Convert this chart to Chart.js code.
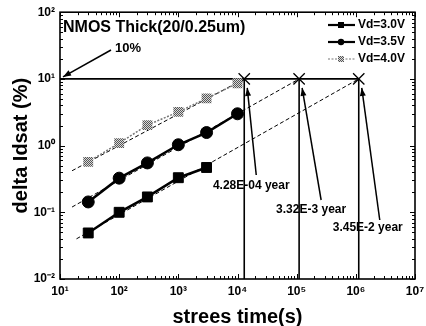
<!DOCTYPE html>
<html><head><meta charset="utf-8">
<script src="https://cdn.jsdelivr.net/npm/chart.js@4.4.0/dist/chart.umd.min.js"></script>
<style>html,body{margin:0;padding:0;background:#fff;}#wrap{width:426px;height:326px;position:relative;}</style>
</head><body><div id="wrap"><canvas id="c"></canvas></div>
<script>
// ---- data ----
const stressTime = [30, 100, 300, 1000, 3000, 10000];
const vd30 = [0.049, 0.10, 0.17, 0.33, 0.47, null];
const vd35 = [0.143, 0.325, 0.55, 1.03, 1.57, 3.0];
const vd40 = [0.57, 1.09, 2.03, 3.2, 5.1, 8.6];
const seriesNames = ['Vd=3.0V', 'Vd=3.5V', 'Vd=4.0V'];
const criterion = 10;                       // 10 % degradation
const lifetimeSec = [1.3e4, 1.1e5, 1.12e6];  // 4.0V, 3.5V, 3.0V
const lifetimeLabels = ['4.28E-04 year', '3.32E-3 year', '3.45E-2 year'];
const fitStartTime = [19, 16, 16];           // 3.0V, 3.5V, 4.0V
const fitStartValue = [0.04, 0.12, 0.42];
const xTicks = [1e1, 1e2, 1e3, 1e4, 1e5, 1e6, 1e7];
const xTickLabels = ['10¹', '10²', '10³', '10⁴', '10⁵', '10⁶', '10⁷'];
const yTicks = [0.01, 0.1, 1, 10, 100];
const yTickLabels = ['10⁻²', '10⁻¹', '10⁰', '10¹', '10²'];
const chartTitle = 'NMOS Thick(20/0.25um)';
const critLabel = '10%';
const xTitle = 'strees time(s)';
const yTitle = 'delta Idsat (%)';

const FONT = "'Liberation Sans', Arial, sans-serif";
const canvas = document.getElementById('c');
const ctx0 = canvas.getContext('2d');

function hatch() {
  const c = document.createElement('canvas'); c.width = 2; c.height = 2;
  const g = c.getContext('2d');
  g.fillStyle = '#d8d8d8'; g.fillRect(0, 0, 2, 2);
  g.fillStyle = '#555'; g.fillRect(0, 0, 1, 1); g.fillRect(1, 1, 1, 1);
  return ctx0.createPattern(c, 'repeat');
}
const grayPat = hatch();

const pts = (ys) => stressTime.map((t, i) => ys[i] == null ? null : ({x: t, y: ys[i]})).filter(p => p);

const datasets = [
  {label: seriesNames[0], data: pts(vd30), showLine: true, borderColor: '#000', borderWidth: 2.5,
   pointStyle: 'rect', pointRadius: 7, pointBackgroundColor: '#000', pointBorderColor: '#000', pointBorderWidth: 1},
  {label: seriesNames[1], data: pts(vd35), showLine: true, borderColor: '#000', borderWidth: 2.5,
   pointStyle: 'circle', pointRadius: 6, pointBackgroundColor: '#000', pointBorderColor: '#000', pointBorderWidth: 1},
  {label: seriesNames[2], data: pts(vd40), showLine: true, borderColor: '#777', borderWidth: 1.5, borderDash: [2, 1.5],
   pointStyle: 'rect', pointRadius: 7, pointBackgroundColor: grayPat, pointBorderColor: 'rgba(0,0,0,0)', pointBorderWidth: 0},
  {label: 'cross', data: lifetimeSec.map(t => ({x: t, y: criterion})), showLine: false,
   pointStyle: 'crossRot', pointRadius: 8, pointBorderColor: '#000', pointBorderWidth: 1.3},
];
// fit lines: 3.0V -> lifetime[2], 3.5V -> lifetime[1], 4.0V -> lifetime[0]
const fitEnd = [lifetimeSec[2], lifetimeSec[1], lifetimeSec[0]];
for (let i = 0; i < 3; i++) {
  datasets.push({label: 'fit' + i, data: [{x: fitStartTime[i], y: fitStartValue[i]}, {x: fitEnd[i], y: criterion}],
    showLine: true, borderColor: '#000', borderWidth: 1, borderDash: [4, 2.5], pointRadius: 0});
}
datasets.push({label: 'crit', data: [{x: xTicks[0], y: criterion}, {x: lifetimeSec[2], y: criterion}],
  showLine: true, borderColor: '#000', borderWidth: 1.6, pointRadius: 0});
for (const t of lifetimeSec) {
  datasets.push({label: 'v', data: [{x: t, y: criterion}, {x: t, y: yTicks[0]}],
    showLine: true, borderColor: '#000', borderWidth: 1.6, pointRadius: 0});
}

function arrow(ctx, x1, y1, x2, y2) {
  ctx.beginPath(); ctx.moveTo(x1, y1); ctx.lineTo(x2, y2); ctx.stroke();
  const a = Math.atan2(y2 - y1, x2 - x1), L = 8, W = 3;
  ctx.beginPath();
  ctx.moveTo(x2, y2);
  ctx.lineTo(x2 - L * Math.cos(a) + W * Math.sin(a), y2 - L * Math.sin(a) - W * Math.cos(a));
  ctx.lineTo(x2 - L * Math.cos(a) - W * Math.sin(a), y2 - L * Math.sin(a) + W * Math.cos(a));
  ctx.closePath(); ctx.fill();
}

const deco = {
  id: 'deco',
  afterDatasetsDraw(chart) {
    const {ctx, chartArea: a, scales: {x, y}} = chart;
    ctx.save();
    ctx.strokeStyle = '#000'; ctx.fillStyle = '#000';
    // frame
    ctx.lineWidth = 1.6;
    ctx.strokeRect(a.left, a.top, a.right - a.left, a.bottom - a.top);
    // inward ticks on all sides
    ctx.lineWidth = 1;
    const minorTicks = (lo, hi) => { const r = []; for (let e = Math.log10(lo); e < Math.log10(hi); e++) for (let m = 1; m < 10; m++) r.push([m * Math.pow(10, e), m === 1]); r.push([hi, true]); return r; };
    for (const [v, major] of minorTicks(xTicks[0], xTicks[xTicks.length - 1])) {
      const px = Math.round(x.getPixelForValue(v)) + 0.5, L = major ? 5 : 3;
      ctx.beginPath(); ctx.moveTo(px, a.bottom); ctx.lineTo(px, a.bottom - L); ctx.moveTo(px, a.top); ctx.lineTo(px, a.top + L); ctx.stroke();
    }
    for (const [v, major] of minorTicks(yTicks[0], yTicks[yTicks.length - 1])) {
      const py = Math.round(y.getPixelForValue(v)) + 0.5, L = major ? 5 : 3;
      ctx.beginPath(); ctx.moveTo(a.left, py); ctx.lineTo(a.left + L, py); ctx.moveTo(a.right, py); ctx.lineTo(a.right - L, py); ctx.stroke();
    }
    // title inside plot
    ctx.font = 'bold 16px ' + FONT; ctx.textBaseline = 'middle'; ctx.textAlign = 'left';
    ctx.fillText(chartTitle, a.left + 3, a.top + 15);
    // 10% label + arrow to criterion at left axis
    const cx = x.getPixelForValue(xTicks[0]), cy = y.getPixelForValue(criterion);
    ctx.font = 'bold 13px ' + FONT;
    ctx.fillText(critLabel, 115, 48);
    ctx.lineWidth = 1.5;
    arrow(ctx, 111, 50, cx + 3, cy - 2);
    // lifetime labels + arrows
    const lab = [{tx: 7, ty: 186, bx: 12, by: 175}, {tx: 12, ty: 210, bx: 22, by: 200}, {tx: 9, ty: 228, bx: 21, by: 220}];
    ctx.font = 'bold 12px ' + FONT; ctx.textAlign = 'center';
    lifetimeSec.forEach((t, i) => {
      const px = x.getPixelForValue(t);
      ctx.fillText(lifetimeLabels[i], px + lab[i].tx, lab[i].ty);
      arrow(ctx, px + lab[i].bx, lab[i].by, px + 3, cy + 9);
    });
    // legend
    ctx.textAlign = 'left'; ctx.font = 'bold 12px ' + FONT;
    const ly = [25, 42, 59];
    for (let i = 0; i < 3; i++) {
      const ds = chart.data.datasets[i];
      ctx.save();
      ctx.strokeStyle = ds.borderColor; ctx.lineWidth = i < 2 ? 2.2 : 1.2;
      ctx.setLineDash(i < 2 ? [] : [2, 1.5]);
      ctx.beginPath(); ctx.moveTo(328, ly[i]); ctx.lineTo(355, ly[i]); ctx.stroke();
      ctx.restore();
      ctx.fillStyle = ds.pointBackgroundColor;
      if (i === 1) { ctx.beginPath(); ctx.arc(341, ly[i], 3.2, 0, 2 * Math.PI); ctx.fill(); }
      else { ctx.fillRect(338, ly[i] - 3, 6, 6); }
      ctx.fillStyle = '#000';
      ctx.fillText(seriesNames[i], 358, ly[i]);
    }
    ctx.restore();
  }
};

new Chart(canvas, {
  type: 'scatter',
  data: {datasets},
  options: {
    responsive: true, maintainAspectRatio: false, animation: false,
    layout: {padding: {top: 12, right: 11, left: 0, bottom: 0}},
    plugins: {legend: {display: false}, tooltip: {enabled: false}},
    elements: {line: {tension: 0}},
    scales: {
      x: {
        type: 'logarithmic', min: xTicks[0], max: xTicks[xTicks.length - 1],
        afterBuildTicks: s => { s.ticks = xTicks.map(v => ({value: v})); },
        afterFit: s => { s.height = 47; s.paddingRight = 11; s.paddingLeft = 0; },
        ticks: {autoSkip: false, maxRotation: 0, padding: 5, color: '#000', font: {family: FONT, size: 12, weight: 'bold'},
          callback: (v) => { const i = xTicks.indexOf(v); return i >= 0 ? xTickLabels[i] : ''; }},
        grid: {display: false, drawTicks: false},
        border: {display: false},
        title: {display: true, text: xTitle, color: '#000', font: {family: FONT, size: 20, weight: 'bold', lineHeight: 1}, padding: {top: 0, bottom: -1}}
      },
      y: {
        type: 'logarithmic', min: yTicks[0], max: yTicks[yTicks.length - 1],
        afterBuildTicks: s => { s.ticks = yTicks.map(v => ({value: v})); },
        afterFit: s => { s.width = 60; },
        ticks: {autoSkip: false, padding: 5, color: '#000', font: {family: FONT, size: 12, weight: 'bold'},
          callback: (v) => { const i = yTicks.indexOf(v); return i >= 0 ? yTickLabels[i] : ''; }},
        grid: {display: false, drawTicks: false},
        border: {display: false},
        title: {display: true, text: yTitle, color: '#000', font: {family: FONT, size: 20, weight: 'bold', lineHeight: 1}, padding: {top: 11, bottom: 0}}
      }
    }
  },
  plugins: [deco]
});
</script></body></html>
